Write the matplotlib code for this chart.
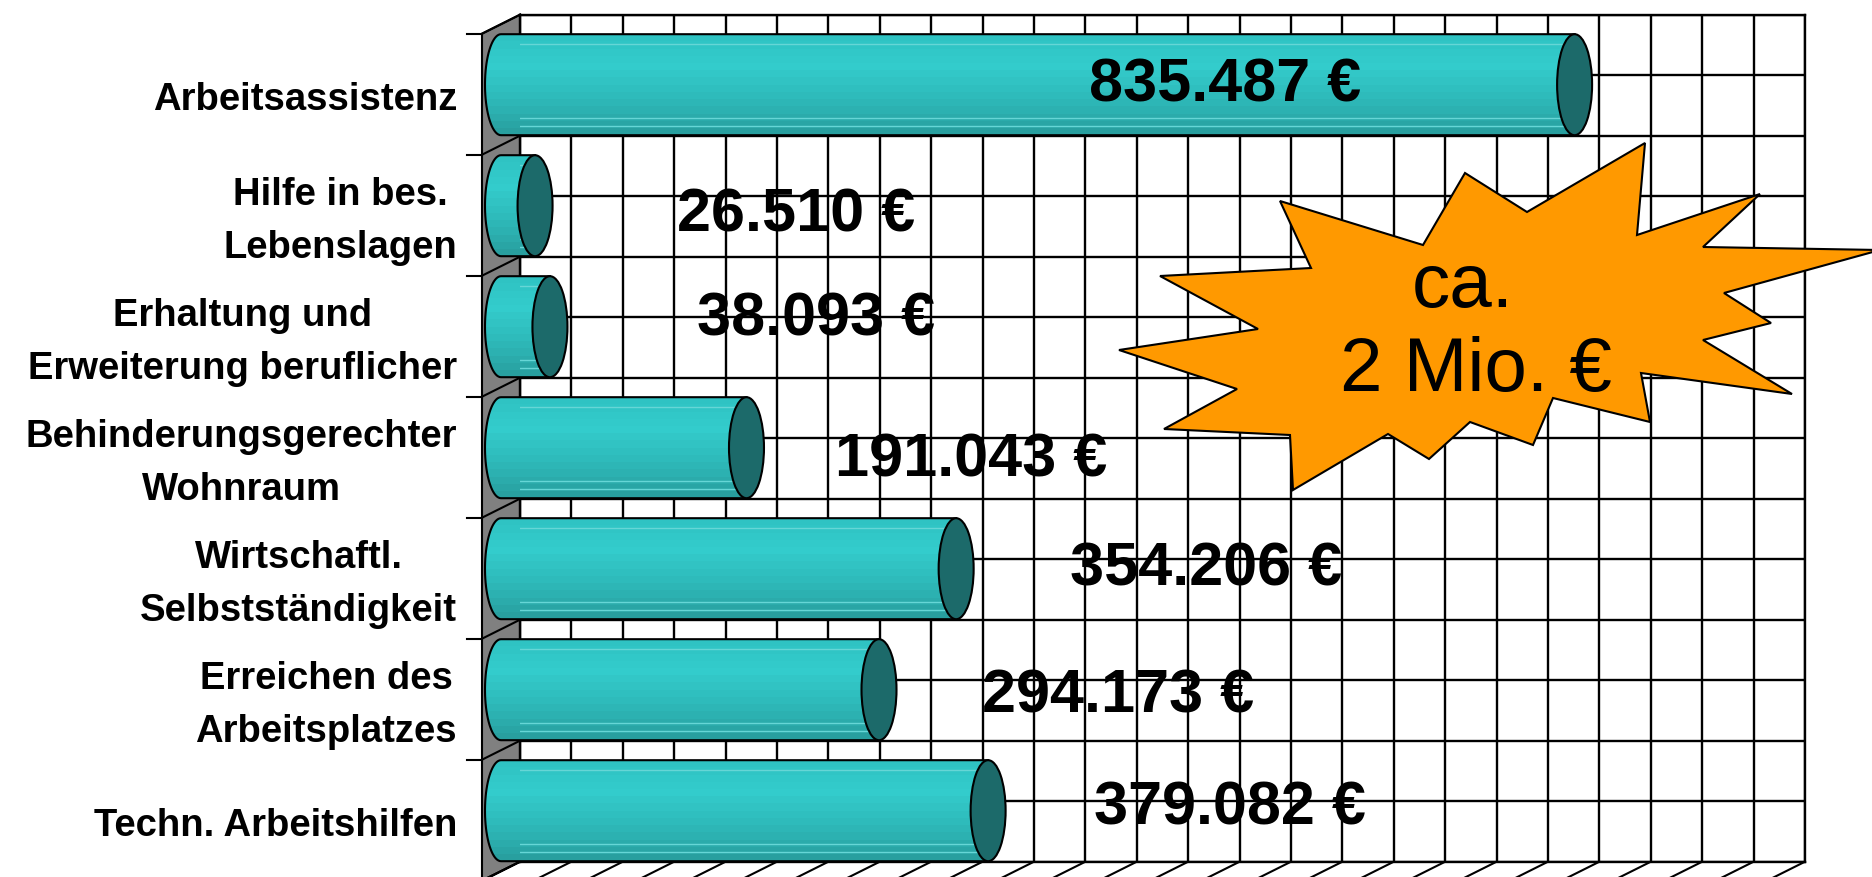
import numpy as np
import matplotlib.pyplot as plt
from matplotlib.patches import Polygon, Ellipse, Rectangle
from matplotlib.transforms import Affine2D, offset_copy
from matplotlib.colors import LinearSegmentedColormap

plt.rcParams['font.family'] = ['Liberation Sans', 'DejaVu Sans']

# data
categories = ['Arbeitsassistenz',
              'Hilfe in bes.\nLebenslagen',
              'Erhaltung und\nErweiterung beruflicher',
              'Behinderungsgerechter\nWohnraum',
              'Wirtschaftl.\nSelbstständigkeit',
              'Erreichen des\nArbeitsplatzes',
              'Techn. Arbeitshilfen']
values = [835487, 26510, 38093, 191043, 354206, 294173, 379082]
value_labels = ['835.487 €', '26.510 €', '38.093 €', '191.043 €',
                '354.206 €', '294.173 €', '379.082 €']
x_max = 1_000_000
x_step = 40_000
callout = ['ca.', '2 Mio. €']

# layout (pixels, measured from the top left of the picture)
W, H = 1872, 877
wall_l, wall_r, wall_t, wall_b = 520, 1805, 14.7, 861.7
label_px = [(1225, 79), (796, 209), (816, 313), (971, 454),
            (1206, 563), (1118, 690), (1230, 802)]
star_px = [(1280, 201), (1423, 245), (1465, 173), (1527, 212), (1645, 143),
           (1637, 235), (1760, 194), (1703, 247), (1880, 250), (1724, 293),
           (1771, 323), (1703, 340), (1792, 394), (1641, 373), (1650, 422),
           (1553, 398), (1533, 445), (1470, 422), (1429, 459), (1388, 434),
           (1293, 490), (1290, 435), (1164, 429), (1237, 389), (1119, 350),
           (1258, 329), (1160, 276), (1311, 268)]

fig = plt.figure(figsize=(W / 100, H / 100), dpi=100)
ax = fig.add_axes([wall_l / W, 1 - wall_b / H, (wall_r - wall_l) / W, (wall_b - wall_t) / H])
n = len(categories)

ax.set_xticks(np.arange(0, x_max + 1, x_step))
ax.set_yticks(np.arange(0, n + 0.01, 0.5))
ax.tick_params(length=0, labelbottom=False, labelleft=False)
ax.grid(True, color='black', lw=1.7)
ax.set_axisbelow(True)
for s in ax.spines.values():
    s.set_color('black')
    s.set_linewidth(1.7)

px_x = x_max / (wall_r - wall_l)
px_y = n / (wall_b - wall_t)
dx, dy = 38 * px_x, 19 * px_y

# left wall, floor and ticks
ax.add_patch(Polygon([(0, 0), (0, n), (-dx, n + dy), (-dx, dy)], closed=True,
                     fc='#808080', ec='black', lw=1.5, clip_on=False, zorder=2))
for k in range(n + 1):
    ax.plot([0, -dx], [k, k + dy], color='black', lw=1.5, clip_on=False, zorder=2.5)
    ax.plot([-dx - 15 * px_x, -dx], [k + dy, k + dy], color='black', lw=1.5, clip_on=False, zorder=2.5)
for xv in np.arange(0, x_max + 1, x_step):
    ax.plot([xv, xv - dx], [n, n + dy], color='black', lw=1.5, clip_on=False, zorder=2.5)

# cylinders
cmap = LinearSegmentedColormap.from_list('teal', [(0, '#2FC3C3'), (0.3, '#33CCCC'),
                                                  (0.7, '#2DB6B6'), (1, '#289F9F')])
nb = 14
bar_h = 101 * px_y
rx = 16 * px_x
for i, v in enumerate(values):
    yc = i + 0.5 + dy / 2
    xl, xr = -dx / 2, v - dx / 2
    t = np.linspace(np.pi / 2, 3 * np.pi / 2, 40)
    arc = np.column_stack([xl + rx * np.cos(t), yc - bar_h / 2 * np.sin(t)])
    pts = np.vstack([arc, [(xr, yc + bar_h / 2), (xr, yc - bar_h / 2)]])
    body = Polygon(pts, closed=True, fc='none', ec='black', lw=1.5, clip_on=False, zorder=4)
    ax.add_patch(body)
    for j in range(nb):
        band = Rectangle((xl - rx, yc - bar_h / 2 + j * bar_h / nb), xr - xl + rx, bar_h / nb * 1.05,
                         fc=cmap(j / (nb - 1)), ec='none', zorder=3)
        band.set_clip_path(body)
        ax.add_patch(band)
    for f in (0.1, 0.83, 0.91):
        hl = ax.plot([xl - rx, xr], [yc - bar_h / 2 + f * bar_h] * 2, color='#66D6D6', lw=1, zorder=3.2)[0]
        hl.set_clip_path(body)
    ax.add_patch(Ellipse((xr, yc), 2 * 17.5 * px_x, bar_h, fc='#1C6A6A', ec='black',
                         lw=1.5, clip_on=False, zorder=5))

# category labels
lab_tr = offset_copy(ax.transData, fig=fig, x=-25, y=-6, units='dots')
for i, c in enumerate(categories):
    ax.text(-dx, i + 0.5 + dy, c, transform=lab_tr, ha='right', va='center',
            multialignment='center', fontsize=27.5, fontweight='bold', linespacing=1.6)

# value labels
val_tr = offset_copy(ax.transData, fig=fig, x=0, y=-7, units='dots')
for (lx, ly), s in zip(label_px, value_labels):
    ax.text((lx - wall_l) * px_x, (ly - wall_t) * px_y, s, transform=val_tr,
            ha='center', va='center', fontsize=44, fontweight='bold', zorder=6, clip_on=False)

ax.set_xlim(0, x_max)
ax.set_ylim(n, 0)

# callout star
pix = Affine2D().scale(1, -1).translate(0, H)
fig.add_artist(Polygon(star_px, closed=True, fc='#FF9900', ec='black', lw=1.5, transform=pix))
fig.text(1463, 287, callout[0], transform=pix, ha='center', va='center', fontsize=55)
fig.text(1476, 372, callout[1], transform=pix, ha='center', va='center', fontsize=55)

fig.savefig('out.png', dpi=100)
